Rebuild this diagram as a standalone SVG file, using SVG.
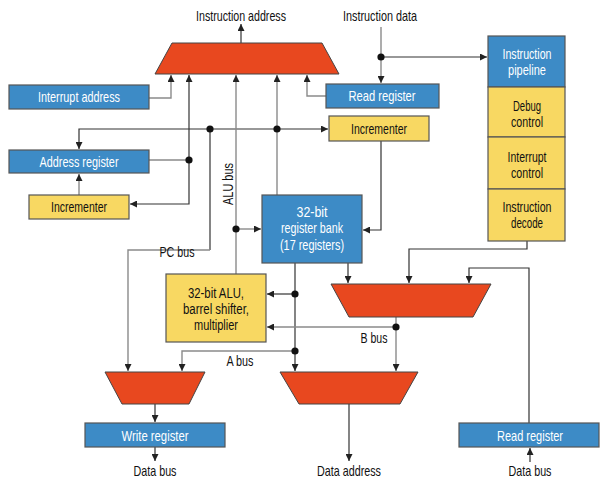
<svg xmlns="http://www.w3.org/2000/svg" width="610" height="490" viewBox="0 0 610 490">
<defs>
<marker id="ah" viewBox="0 0 10 10" refX="10" refY="5" markerWidth="7" markerHeight="7" markerUnits="userSpaceOnUse" orient="auto">
<path d="M0,0 L10,5 L0,10 z" fill="#222"/>
</marker>
</defs>
<style>
text{font-family:"Liberation Sans",Arial,sans-serif;font-size:15px;text-anchor:middle}
.w{fill:#fff}
.k{fill:#111}
.s{font-size:14px}
.blue{fill:#3d8bc6;stroke:#555;stroke-width:1.2}
.yel{fill:#f8d862;stroke:#555;stroke-width:1.2}
.mux{fill:#e8481f;stroke:#444;stroke-width:1}
.d{fill:none;stroke:#333;stroke-width:1.2}
.g{fill:none;stroke:#8a8a8a;stroke-width:1.4}
.a{marker-end:url(#ah)}
.dot{fill:#111}
</style>
<rect width="610" height="490" fill="#fff"/>

<g id="connectors">
<path class="d a" d="M241,43 V24"/>
<path class="g a" d="M149,98 H171 V75"/>
<path class="g" d="M149,160 H189"/>
<path class="d a" d="M189,160 V75"/>
<path class="d a" d="M189,160 V204 H130"/>
<path class="g a" d="M79,195 V174"/>
<path class="d a" d="M210,129 H79 V149"/>
<path class="d a" d="M210,129 H328"/>
<path class="d" d="M210,129 V250"/>
<path class="g a" d="M210,250 H128 V371"/>
<path class="g a" d="M236,274 V75"/>
<path class="g a" d="M236,229 H261"/>
<path class="g a" d="M277,195 V75"/>
<path class="g a" d="M326,96 H307 V75"/>
<path class="g a" d="M381,27 V83"/>
<path class="d a" d="M381,57 H487"/>
<path class="d a" d="M381,141 V230 H363"/>
<path class="d a" d="M295,263 V371"/>
<path class="d a" d="M295,294 H267"/>
<path class="g a" d="M295,351 H182 V371"/>
<path class="d a" d="M348,263 V283"/>
<path class="d a" d="M527,241 V249 H409 V283"/>
<path class="d a" d="M529,423 V268 H469 V283"/>
<path class="g a" d="M396,317 V371"/>
<path class="g a" d="M396,327 H267"/>
<path class="d a" d="M155,404 V422"/>
<path class="d a" d="M155,447 V461"/>
<path class="d a" d="M349,404 V461"/>
<path class="d a" d="M530,462 V448"/>
<circle class="dot" cx="189" cy="160" r="3.6"/>
<circle class="dot" cx="210" cy="129" r="3.6"/>
<circle class="dot" cx="277" cy="129" r="3.6"/>
<circle class="dot" cx="236" cy="229" r="3.6"/>
<circle class="dot" cx="381" cy="57" r="3.6"/>
<circle class="dot" cx="295" cy="294" r="3.6"/>
<circle class="dot" cx="295" cy="351" r="3.6"/>
<circle class="dot" cx="396" cy="327" r="3.6"/>
</g>

<g id="labels">
<text class="k" x="241" y="21" textLength="90" lengthAdjust="spacingAndGlyphs">Instruction address</text>
<text class="k" x="380" y="21" textLength="74" lengthAdjust="spacingAndGlyphs">Instruction data</text>
<text class="k" x="177" y="257" textLength="35" lengthAdjust="spacingAndGlyphs">PC bus</text>
<text class="k" x="240" y="366" textLength="27" lengthAdjust="spacingAndGlyphs">A bus</text>
<text class="k" x="374" y="343" textLength="27" lengthAdjust="spacingAndGlyphs">B bus</text>
<text class="k" transform="translate(233,184) rotate(-90)" x="0" y="0" textLength="42" lengthAdjust="spacingAndGlyphs">ALU bus</text>
<text class="k" x="155" y="476" textLength="43" lengthAdjust="spacingAndGlyphs">Data bus</text>
<text class="k" x="349" y="476" textLength="64" lengthAdjust="spacingAndGlyphs">Data address</text>
<text class="k" x="530" y="476" textLength="43" lengthAdjust="spacingAndGlyphs">Data bus</text>
</g>

<g id="mux-top"><polygon class="mux" points="172,43 322,43 339,74 155,74"/></g>
<g id="mux-b"><polygon class="mux" points="331,284 491,284 473,317 349,317"/></g>
<g id="mux-write"><polygon class="mux" points="105,372 205,372 189,404 122,404"/></g>
<g id="mux-addr"><polygon class="mux" points="280,372 418,372 400,404 299,404"/></g>

<g id="interrupt-address"><rect class="blue" x="9" y="85" width="140" height="24"/>
<text class="w" x="79" y="102" textLength="82" lengthAdjust="spacingAndGlyphs">Interrupt address</text></g>
<g id="address-register"><rect class="blue" x="9" y="150" width="140" height="23"/>
<text class="w" x="79" y="167" textLength="79" lengthAdjust="spacingAndGlyphs">Address register</text></g>
<g id="incrementer-left"><rect class="yel" x="29" y="195" width="100" height="24"/>
<text class="k" x="79" y="212" textLength="56" lengthAdjust="spacingAndGlyphs">Incrementer</text></g>
<g id="read-register-top"><rect class="blue" x="326" y="84" width="113" height="24"/>
<text class="w" x="382" y="101" textLength="67" lengthAdjust="spacingAndGlyphs">Read register</text></g>
<g id="incrementer-right"><rect class="yel" x="329" y="116" width="100" height="25"/>
<text class="k" x="379" y="134" textLength="56" lengthAdjust="spacingAndGlyphs">Incrementer</text></g>

<g id="instruction-pipeline"><rect class="blue" x="488" y="36" width="77" height="51"/>
<text class="w" x="527" y="59" textLength="49" lengthAdjust="spacingAndGlyphs">Instruction</text>
<text class="w" x="527" y="75" textLength="38" lengthAdjust="spacingAndGlyphs">pipeline</text></g>
<g id="debug-control"><rect class="yel" x="488" y="87" width="77" height="50"/>
<text class="k" x="527" y="111" textLength="28" lengthAdjust="spacingAndGlyphs">Debug</text>
<text class="k" x="527" y="127" textLength="32" lengthAdjust="spacingAndGlyphs">control</text></g>
<g id="interrupt-control"><rect class="yel" x="488" y="137" width="77" height="52"/>
<text class="k" x="527" y="162" textLength="39" lengthAdjust="spacingAndGlyphs">Interrupt</text>
<text class="k" x="527" y="178" textLength="32" lengthAdjust="spacingAndGlyphs">control</text></g>
<g id="instruction-decode"><rect class="yel" x="488" y="189" width="77" height="52"/>
<text class="k" x="527" y="212" textLength="49" lengthAdjust="spacingAndGlyphs">Instruction</text>
<text class="k" x="527" y="228" textLength="32" lengthAdjust="spacingAndGlyphs">decode</text></g>

<g id="register-bank"><rect class="blue" x="262" y="195" width="100" height="68"/>
<text class="w" x="312" y="217" textLength="31" lengthAdjust="spacingAndGlyphs">32-bit</text>
<text class="w" x="312" y="233" textLength="62" lengthAdjust="spacingAndGlyphs">register bank</text>
<text class="w" x="312" y="250" textLength="64" lengthAdjust="spacingAndGlyphs">(17 registers)</text></g>
<g id="alu"><rect class="yel" x="166" y="274" width="100" height="68"/>
<text class="k s" x="216" y="298" textLength="56" lengthAdjust="spacingAndGlyphs">32-bit ALU,</text>
<text class="k s" x="216" y="314" textLength="66" lengthAdjust="spacingAndGlyphs">barrel shifter,</text>
<text class="k s" x="216" y="330" textLength="44" lengthAdjust="spacingAndGlyphs">multiplier</text></g>

<g id="write-register"><rect class="blue" x="85" y="423" width="140" height="24"/>
<text class="w" x="155" y="441" textLength="67" lengthAdjust="spacingAndGlyphs">Write register</text></g>
<g id="read-register-bottom"><rect class="blue" x="459" y="423" width="140" height="24"/>
<text class="w" x="530" y="441" textLength="66" lengthAdjust="spacingAndGlyphs">Read register</text></g>
</svg>
